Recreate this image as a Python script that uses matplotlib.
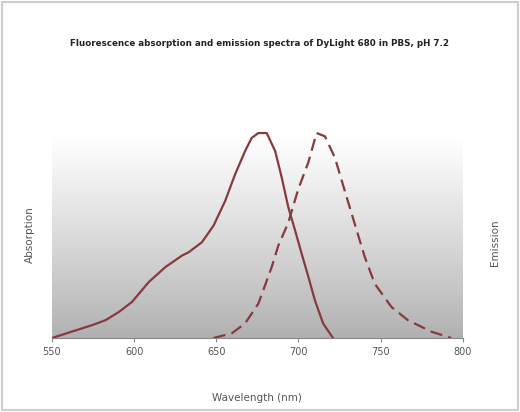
import numpy as np
import matplotlib
matplotlib.use('Agg')
import matplotlib.pyplot as plt
from matplotlib.patches import Rectangle

# absorption spectrum (normalised)
abs_nm = [550, 562, 574.5, 582.6, 590.7, 598.7, 608.9, 619, 629.1, 633.1, 641.2, 648.3,
          655.4, 661.5, 667.5, 671.5, 675.6, 680.7, 685.8, 689.8, 693.8, 697.9, 701.9,
          706, 710, 715, 721]
abs_val = [0, 0.031, 0.063, 0.087, 0.127, 0.176, 0.273, 0.346, 0.402, 0.418, 0.467, 0.548,
           0.669, 0.8, 0.912, 0.976, 1.0, 1.0, 0.912, 0.783, 0.638, 0.526, 0.412,
           0.299, 0.184, 0.071, 0]

# emission spectrum (normalised)
em_nm = [648.3, 659.4, 667.5, 675.6, 683.7, 687.7, 693.8, 699.9, 706, 711, 716.1, 722.2,
         728.2, 734.3, 740.4, 746.4, 756.5, 766.6, 780.8, 793]
em_val = [0, 0.023, 0.071, 0.168, 0.346, 0.45, 0.563, 0.727, 0.857, 1.0, 0.984, 0.879,
          0.717, 0.555, 0.394, 0.265, 0.152, 0.087, 0.031, 0]

xticks = [550, 600, 650, 700, 750, 800]
line_col = '#863a3e'
txt_col = '#555555'

fig = plt.figure(figsize=(5.2, 4.12), dpi=100)
fig.patches.append(Rectangle((0.004, 0.004), 0.992, 0.99, transform=fig.transFigure,
                             fill=False, edgecolor='#cfcfcf', lw=1.5))
ax = fig.add_axes([0.1, 0.1796, 0.79, 0.597])
ax.set_xlim(550, 800)
ax.set_ylim(0, 1.2)

# background gradient: white at top, grey at the bottom
yy = np.linspace(0, 1.2, 200)
g = np.clip(0.69 + 0.31 * (yy / 0.98) ** 0.9, 0, 1)
grad = np.repeat(g[:, None], 2, axis=1)
ax.imshow(np.dstack([grad, grad, grad]), extent=[550, 800, 0, 1.2], origin='lower',
          aspect='auto', zorder=0)

ax.plot(abs_nm, abs_val, color=line_col, lw=1.6, zorder=3)
ax.plot(em_nm, em_val, color=line_col, lw=1.6, ls=(0, (5.5, 2.8)), zorder=3)

for s in ['top', 'right', 'left']:
    ax.spines[s].set_visible(False)
ax.spines['bottom'].set_color('#888888')
ax.set_yticks([])
ax.set_xticks(xticks)
ax.tick_params(axis='x', length=3, color='#888888', labelsize=7, labelcolor=txt_col)

ax.set_xlabel('Wavelength (nm)', fontsize=7.5, color=txt_col, labelpad=26)
fig.text(0.058, 0.43, 'Absorption', rotation=90, fontsize=7.5, color=txt_col,
         ha='center', va='center')
fig.text(0.952, 0.41, 'Emission', rotation=90, fontsize=7.5, color=txt_col,
         ha='center', va='center')
fig.text(0.5, 0.895, 'Fluorescence absorption and emission spectra of DyLight 680 in PBS, pH 7.2',
         fontsize=6.3, fontweight='bold', color='#222222', ha='center', va='center')

fig.savefig('out.png', dpi=100)
